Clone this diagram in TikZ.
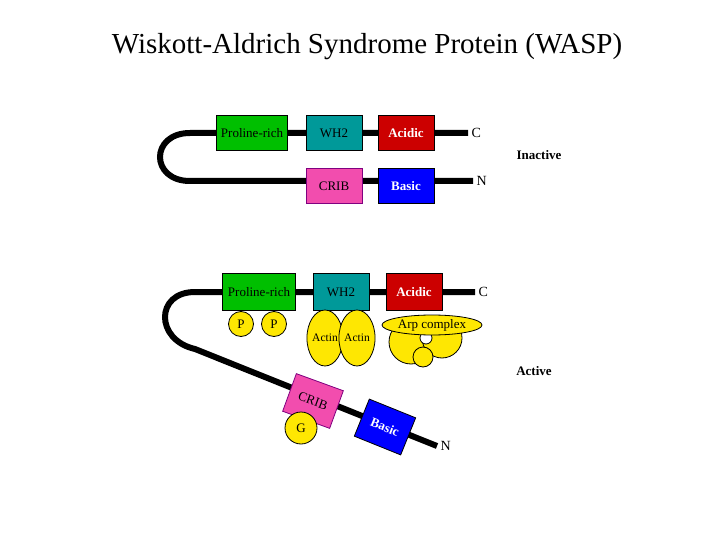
\documentclass[tikz,border=0pt]{standalone}
\usepackage{fontspec}
\setmainfont{Liberation Serif}
\usepackage{tikz}
\usetikzlibrary{shapes.geometric}
\begin{document}
\begin{tikzpicture}[x=1pt,y=-1pt,line width=0.8pt,
dom/.style={draw,minimum width=56pt,minimum height=35pt,inner sep=0pt,font=\fontsize{13}{13}\selectfont},
chain/.style={line width=6pt},
yel/.style={draw,fill=yellow!90!orange,font=\fontsize{13}{13}\selectfont,inner sep=0pt}]
\useasboundingbox (0,0) rectangle (720,540);
\node (title) at (367,47) {\fontsize{29}{29}\selectfont Wiskott-Aldrich Syndrome Protein (WASP)};
% inactive
\coordinate (ic) at (468,133);
\coordinate (in) at (473,181);
\draw[chain] (ic) -- (190,133) .. controls (150,133) and (150,181) .. (190,181) -- (in);
\node[dom,fill=green!75!black,minimum width=71pt] (pr1) at (252,133) {Proline-rich};
\node[dom,fill=teal!80!cyan] (wh1) at (334,133) {WH2};
\node[dom,fill=red!80!black,text=white] (ac1) at (406,133) {\textbf{Acidic}};
\node[dom,fill=magenta!70,draw=violet] (cr1) at (334,186) {CRIB};
\node[dom,fill=blue,text=white] (ba1) at (406,186) {\textbf{Basic}};
\node[right] (c1) at (ic) {\fontsize{14}{14}\selectfont C};
\node[right] (n1) at (in) {\fontsize{14}{14}\selectfont N};
\node (inact) at (539,155) {\fontsize{13}{13}\selectfont\textbf{Inactive}};
% active
\coordinate (ac) at (475,292);
\coordinate (an) at (437,446);
\draw[chain] (ac) -- (195,292) .. controls (155,292) and (155,340) .. (195,349) -- (an);
\node[dom,fill=green!75!black,minimum width=73pt,minimum height=37pt] (pr2) at (259,292) {Proline-rich};
\node[dom,fill=teal!80!cyan,minimum height=37pt] (wh2) at (341,292) {WH2};
\node[dom,fill=red!80!black,text=white,minimum height=37pt] (ac2) at (414,292) {\textbf{Acidic}};
\node[right] (c2) at (ac) {\fontsize{14}{14}\selectfont C};
\node[right] (n2) at (an) {\fontsize{14}{14}\selectfont N};
\node[yel,circle,minimum size=25pt] (p1) at (241,324) {P};
\node[yel,circle,minimum size=25pt] (p2) at (274,324) {P};
\node[yel,ellipse,minimum width=32pt,minimum height=56pt,font=\fontsize{11.5}{11.5}\selectfont] (act1) at (325,338) {Actin};
\node[yel,ellipse,minimum width=32pt,minimum height=56pt,font=\fontsize{11.5}{11.5}\selectfont] (act2) at (357,338) {Actin};
\draw[fill=yellow!90!orange] (411,342) ellipse (22 and 22);
\draw[fill=yellow!90!orange] (442,338) ellipse (20 and 20);
\node[yel,circle,minimum size=20pt] (arp3) at (423,357) {};
\draw[fill=white] (426,338) circle (6);
\node[yel,ellipse,minimum width=100pt,minimum height=20pt] (arp) at (432,325) {Arp complex};
\node[dom,fill=magenta!70,draw=violet,minimum width=50pt,minimum height=40pt,rotate=-20] (cr2) at (313,401) {CRIB};
\node[yel,circle,minimum size=32pt] (g) at (301,428) {G};
\node[dom,fill=blue,text=white,minimum width=50pt,minimum height=40pt,rotate=-22] (ba2) at (385,427) {\textbf{Basic}};
\node (act) at (534,371) {\fontsize{13}{13}\selectfont\textbf{Active}};
\end{tikzpicture}
\end{document}
